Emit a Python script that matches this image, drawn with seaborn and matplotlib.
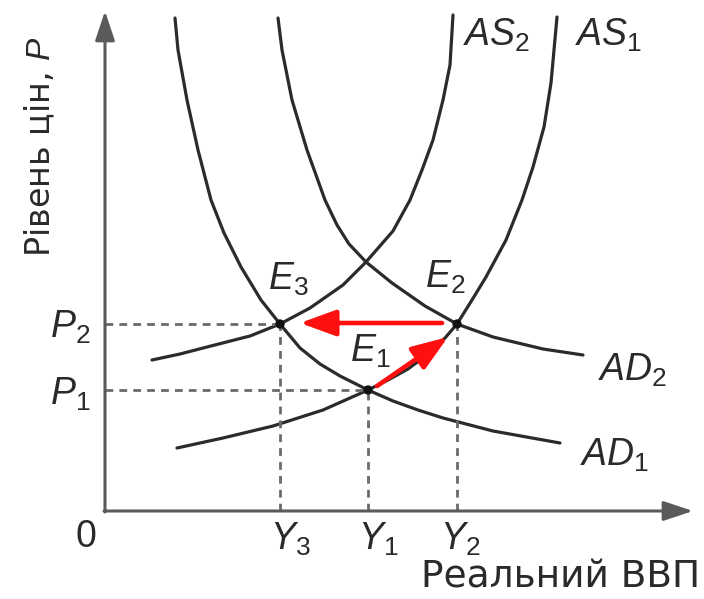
import matplotlib
matplotlib.use('Agg')
import matplotlib.pyplot as plt
import seaborn as sns
import pandas as pd

ad1_x = [70, 73, 82, 93, 106, 119, 136, 156, 175, 195, 215, 235, 255, 263, 288, 313, 338, 388, 455]
ad1_y = [493, 461, 411, 361, 311, 278, 244, 211, 187, 163, 147, 135, 125, 121, 110, 101, 93, 80, 68]
ad2_x = [173, 177, 187, 202, 220, 232, 244, 261, 287, 320, 352, 388, 438, 478]
ad2_y = [493, 461, 411, 361, 311, 286, 267, 249, 228, 205, 187, 174, 162, 156]
as1_x = [72, 118, 168, 218, 245, 263, 283, 303, 323, 340, 352, 367, 381, 401, 417, 428, 439, 446, 452]
as1_y = [63, 73, 85, 101, 113, 121, 131, 142, 157, 173, 187, 211, 234, 271, 311, 344, 384, 428, 494]
as2_x = [47, 75, 102, 145, 175, 205, 238, 261, 288, 305, 317, 328, 338, 345, 348]
as2_y = [151, 157, 164, 175, 187, 203, 226, 249, 280, 311, 341, 371, 411, 446, 496]

eq_names = ['E1', 'E2', 'E3']
eq_x = [263, 352, 175]
eq_y = [121, 187, 187]

sns.set_theme(style='white')
plt.rcParams['font.family'] = ['Liberation Sans', 'DejaVu Sans']
plt.rcParams['mathtext.fontset'] = 'custom'
plt.rcParams['mathtext.it'] = 'Liberation Sans:italic'
plt.rcParams['mathtext.rm'] = 'Liberation Sans'

fig = plt.figure(figsize=(7.04, 5.99), dpi=100)
ax = fig.add_axes([0, 0, 1, 1])
ax.set_xlim(-105, 599)
ax.set_ylim(-88, 511)
ax.axis('off')

curve_col = '#2b2b2b'
grey = '#5a5a5a'

curves = pd.concat([
    pd.DataFrame({'x': ad1_x, 'y': ad1_y, 'c': 'AD1'}),
    pd.DataFrame({'x': ad2_x, 'y': ad2_y, 'c': 'AD2'}),
    pd.DataFrame({'x': as1_x, 'y': as1_y, 'c': 'AS1'}),
    pd.DataFrame({'x': as2_x, 'y': as2_y, 'c': 'AS2'}),
])
for name, d in curves.groupby('c'):
    sns.lineplot(data=d, x='x', y='y', sort=False, color=curve_col, lw=2.3,
                 ax=ax, legend=False, solid_joinstyle='round')

# dashed guides
dash = dict(color='#6a6a6a', lw=2.0, ls=(0, (2.8, 2.2)))
ax.plot([0, eq_x[2]], [eq_y[2], eq_y[2]], **dash)
ax.plot([0, eq_x[0]], [eq_y[0], eq_y[0]], **dash)
for xx, yy in zip(eq_x, eq_y):
    ax.plot([xx, xx], [0, yy], **dash)

sns.scatterplot(x=eq_x, y=eq_y, color='#111111', s=45, zorder=5, ax=ax,
                edgecolor='none')

# axes with arrow heads
axis_arrow = dict(arrowstyle='-|>,head_length=0.9,head_width=0.3', color=grey,
                  lw=2.2, mutation_scale=20, shrinkA=0, shrinkB=0)
ax.annotate('', xy=(0, 500), xytext=(0, -1), arrowprops=axis_arrow)
ax.annotate('', xy=(588, 0), xytext=(-1, 0), arrowprops=axis_arrow)

# red shift arrows
red_arrow = dict(arrowstyle='-|>,head_length=1.1,head_width=0.4', color='#ff1010',
                 lw=3.3, mutation_scale=20, shrinkA=0, shrinkB=0)
ax.annotate('', xy=(195, 188), xytext=(337, 188), arrowprops=red_arrow)
ax.annotate('', xy=(343, 174), xytext=(272, 125), arrowprops=red_arrow)

tc = '#2a2a2a'
fs = 27
lab = dict(fontsize=fs, color=tc, ha='left', va='baseline')
ax.text(358, 465, r'$AS_2$', **lab)
ax.text(470, 465, r'$AS_1$', **lab)
ax.text(493, 130, r'$AD_2$', **lab)
ax.text(475, 45, r'$AD_1$', **lab)
ax.text(163, 221, r'$E_3$', **lab)
ax.text(320, 223, r'$E_2$', **lab)
ax.text(245, 149, r'$E_1$', **lab)

ax.text(-55, 173, r'$P_2$', **lab)
ax.text(-55, 106, r'$P_1$', **lab)
ax.text(-19, -26, '0', fontsize=fs, color=tc, ha='center', va='center')
for t, xx in zip(['$Y_3$', '$Y_1$', '$Y_2$'], [165, 253, 335]):
    ax.text(xx, -39, t, **lab)

ax.text(-65, 364, 'Рівень цін, $P$', fontsize=24, color=tc, rotation=90,
        ha='center', va='center', family='DejaVu Sans')
ax.text(595, -67, 'Реальний ВВП', fontsize=27, color=tc, ha='right', va='center',
        family='DejaVu Sans')

fig.savefig('out.png', dpi=100)
